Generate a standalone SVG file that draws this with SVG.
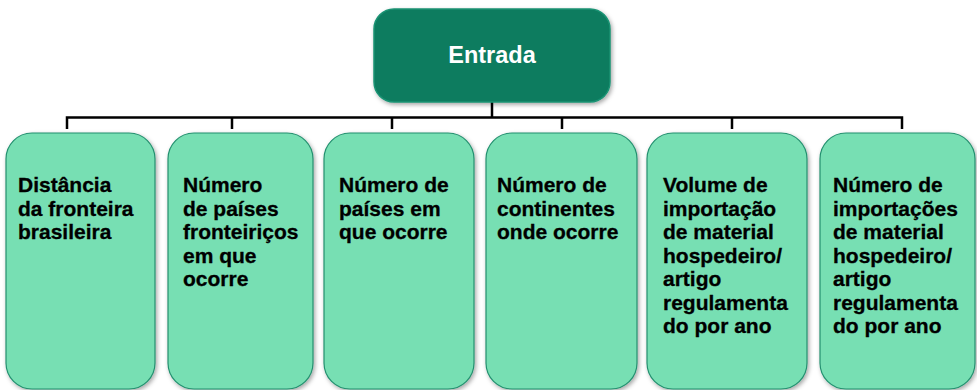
<svg xmlns="http://www.w3.org/2000/svg" width="977" height="390" viewBox="0 0 977 390">
<defs>
<filter id="sh" x="-10%" y="-10%" width="125%" height="125%">
<feDropShadow dx="1.5" dy="2" stdDeviation="2" flood-color="#000" flood-opacity="0.35"/>
</filter>
</defs>
<style>
.root{fill:#0b7b5f;stroke:#1a9273;stroke-width:1.5;filter:url(#sh)}
.leaf{fill:#77dfb3;stroke:#23906f;stroke-width:1.2;filter:url(#sh)}
.lt{font-family:"Liberation Sans",Arial,sans-serif;font-weight:bold;font-size:21px;fill:#000;stroke:#000;stroke-width:0.3}
.rt{font-family:"Liberation Sans",Arial,sans-serif;font-weight:bold;font-size:23.5px;fill:#fff;text-anchor:middle}
.con{fill:none;stroke:#000;stroke-width:2.5}
</style>
<rect width="977" height="390" fill="#fff"/>
<g id="connectors">
<path class="con" d="M492 102V117.5M67 129V117.5H902V129M232 117.5V129M392 117.5V129M562 117.5V129M732 117.5V129"/>
</g>
<g id="entrada">
<rect class="root" x="374" y="9" width="236" height="93" rx="20"/>
<text class="rt" x="492" y="63">Entrada</text>
</g>
<g id="n1">
<rect class="leaf" x="6" y="133" width="149" height="256" rx="26"/>
<text class="lt"><tspan x="18" y="192">Distância</tspan><tspan x="18" y="215.5">da fronteira</tspan><tspan x="18" y="239">brasileira</tspan></text>
</g>
<g id="n2">
<rect class="leaf" x="168" y="133" width="145" height="256" rx="26"/>
<text class="lt"><tspan x="183" y="192">Número</tspan><tspan x="183" y="215.5">de países</tspan><tspan x="183" y="239">fronteiriços</tspan><tspan x="183" y="262.5">em que</tspan><tspan x="183" y="286">ocorre</tspan></text>
</g>
<g id="n3">
<rect class="leaf" x="324" y="133" width="150" height="256" rx="26"/>
<text class="lt"><tspan x="339" y="192">Número de</tspan><tspan x="339" y="215.5">países em</tspan><tspan x="339" y="239">que ocorre</tspan></text>
</g>
<g id="n4">
<rect class="leaf" x="486" y="133" width="151" height="256" rx="26"/>
<text class="lt"><tspan x="497" y="192">Número de</tspan><tspan x="497" y="215.5">continentes</tspan><tspan x="497" y="239">onde ocorre</tspan></text>
</g>
<g id="n5">
<rect class="leaf" x="647" y="133" width="160" height="256" rx="26"/>
<text class="lt"><tspan x="663" y="192">Volume de</tspan><tspan x="663" y="215.5">importação</tspan><tspan x="663" y="239">de material</tspan><tspan x="663" y="262.5">hospedeiro/</tspan><tspan x="663" y="286">artigo</tspan><tspan x="663" y="309.5">regulamenta</tspan><tspan x="663" y="333">do por ano</tspan></text>
</g>
<g id="n6">
<rect class="leaf" x="820" y="133" width="155" height="256" rx="26"/>
<text class="lt"><tspan x="833" y="192">Número de</tspan><tspan x="833" y="215.5">importações</tspan><tspan x="833" y="239">de material</tspan><tspan x="833" y="262.5">hospedeiro/</tspan><tspan x="833" y="286">artigo</tspan><tspan x="833" y="309.5">regulamenta</tspan><tspan x="833" y="333">do por ano</tspan></text>
</g>
</svg>
